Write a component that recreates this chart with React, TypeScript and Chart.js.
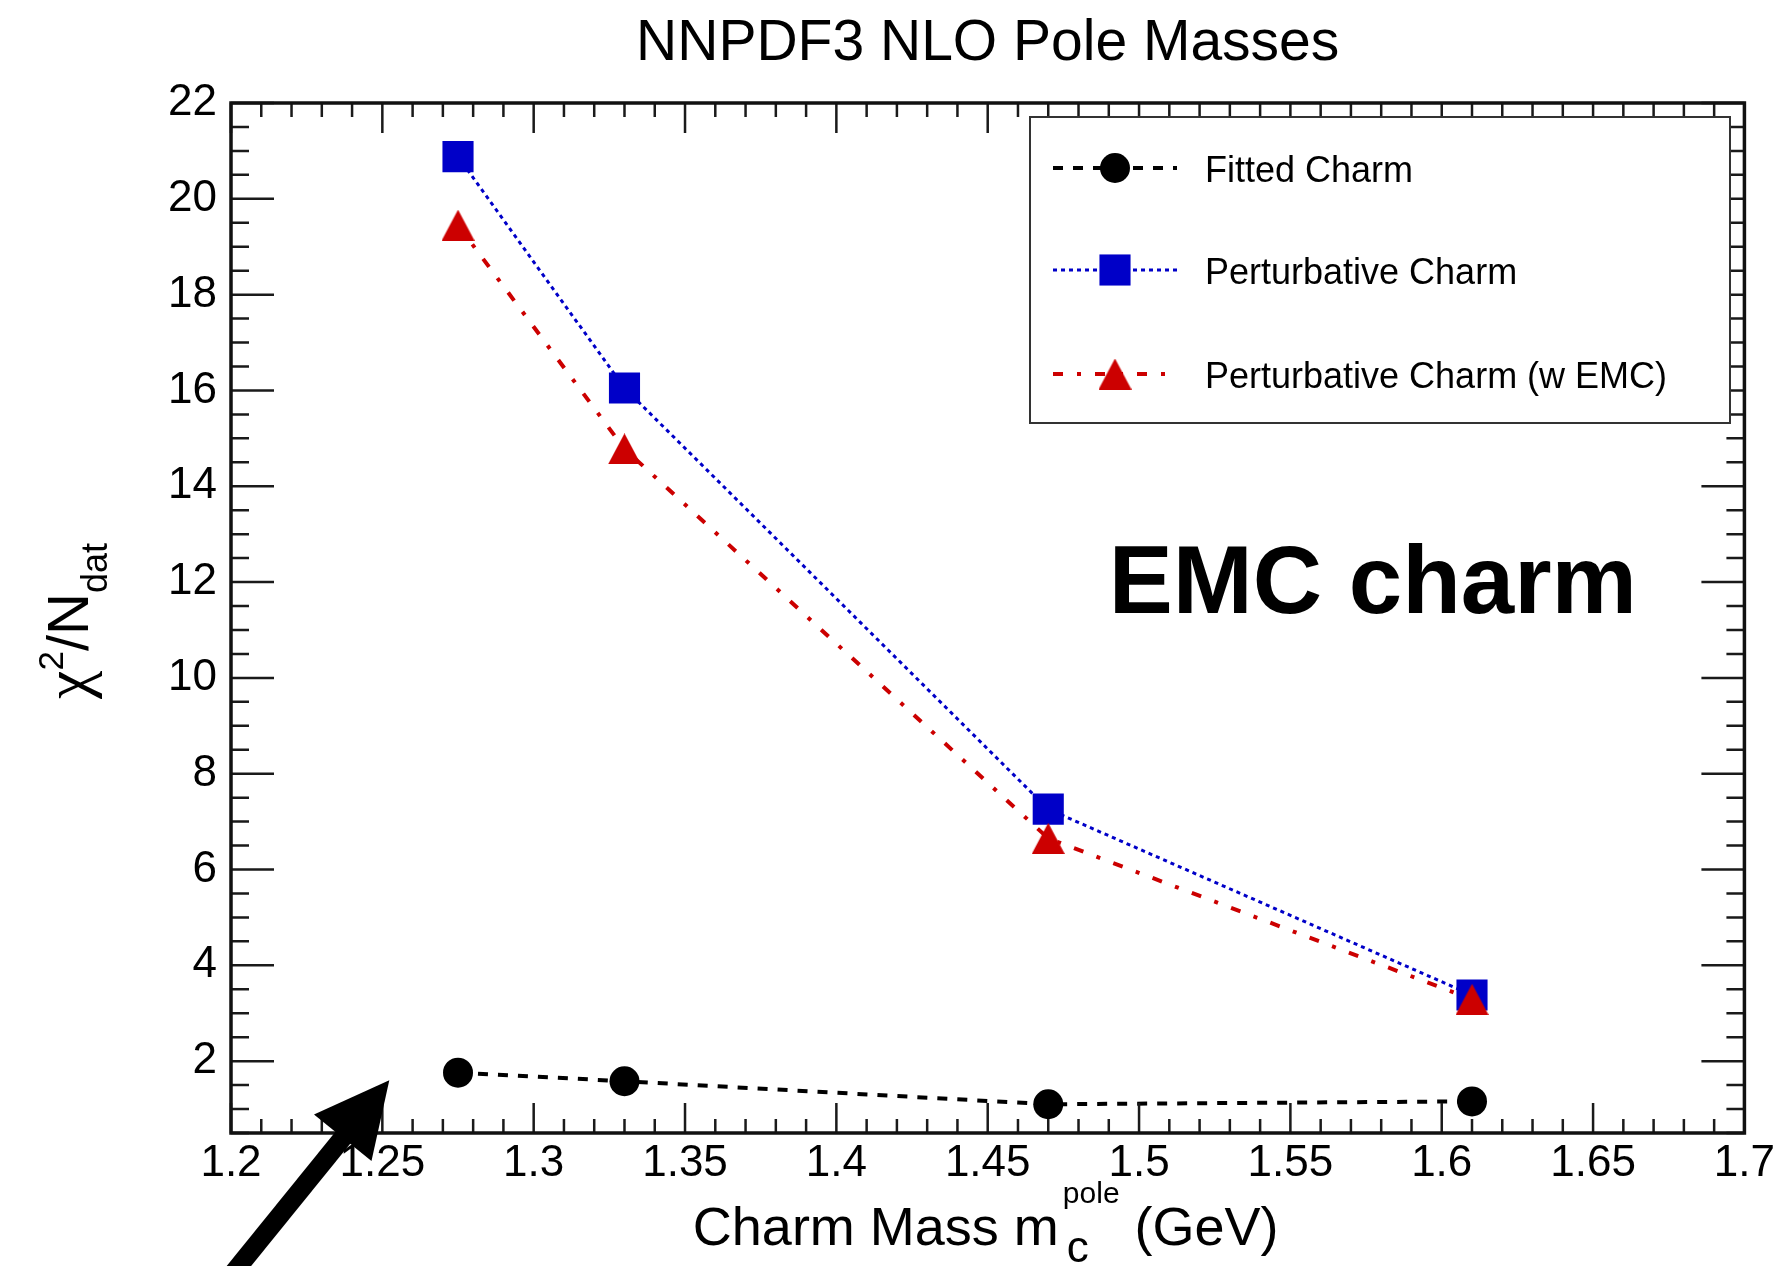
import React, { useEffect, useRef } from 'react';
import { Chart, registerables } from 'chart.js';

Chart.register(...registerables);

const FONT = "'Liberation Sans', Arial, Helvetica, sans-serif";
const GREEK_FONT = "'Liberation Serif', 'DejaVu Serif', serif";

// ---- data ----
const chartTitle = 'NNPDF3 NLO Pole Masses';
const charmMass = [1.275, 1.33, 1.47, 1.61];
const fittedCharm = [1.76, 1.58, 1.1, 1.16];
const perturbativeCharm = [20.88, 16.05, 7.26, 3.38];
const perturbativeCharmEMC = [19.45, 14.78, 6.65, 3.29];
const seriesNames = ['Fitted Charm', 'Perturbative Charm', 'Perturbative Charm (w EMC)'];

const xTickValues = [1.2, 1.25, 1.3, 1.35, 1.4, 1.45, 1.5, 1.55, 1.6, 1.65, 1.7];
const xTickLabels = ['1.2', '1.25', '1.3', '1.35', '1.4', '1.45', '1.5', '1.55', '1.6', '1.65', '1.7'];
const yTickValues = [2, 4, 6, 8, 10, 12, 14, 16, 18, 20, 22];
const yTickLabels = ['2', '4', '6', '8', '10', '12', '14', '16', '18', '20', '22'];
const xRange = [1.2, 1.7];
const yRange = [0.5, 22];
const xMinorStep = 0.01;
const xMinorPerMajor = 5;
const yMinorStep = 0.5;
const yMinorPerMajor = 4;

const annotationText = 'EMC charm';
const annotationAt = [1.49, 11.36];
const arrowTip = [1.2523, 1.6];
const arrowTail = [1.1959, -2.8];

function makeTriangle(color: string, w: number, h: number) {
  const c = document.createElement('canvas');
  c.width = w;
  c.height = h;
  const g = c.getContext('2d')!;
  g.fillStyle = color;
  g.beginPath();
  g.moveTo(w / 2, 0);
  g.lineTo(w, h);
  g.lineTo(0, h);
  g.closePath();
  g.fill();
  return c;
}

function drawMarker(ctx: CanvasRenderingContext2D, ds: any, x: number, y: number) {
  const style = ds.pointStyle;
  const r = ds.pointRadius;
  ctx.save();
  ctx.setLineDash([]);
  ctx.fillStyle = ds.pointBackgroundColor;
  if (style === 'circle') {
    ctx.beginPath();
    ctx.arc(x, y, r, 0, Math.PI * 2);
    ctx.fill();
  } else if (style === 'rect') {
    const s = r * Math.SQRT1_2;
    ctx.fillRect(x - s, y - s, 2 * s, 2 * s);
  } else if (style && style.width) {
    ctx.drawImage(style, x - style.width / 2, y - style.height / 2);
  }
  ctx.restore();
}

const rootStyle = {
  id: 'rootStyle',
  afterDatasetsDraw(chart: any) {
    const { ctx, chartArea: a, scales } = chart;
    const xs = scales.x;
    const ys = scales.y;
    ctx.save();

    // ticks (inside frame, ROOT style)
    ctx.strokeStyle = '#1a1a1a';
    ctx.lineWidth = 2.5;
    ctx.setLineDash([]);
    ctx.beginPath();
    const nx = Math.round((xRange[1] - xRange[0]) / xMinorStep);
    for (let i = 0; i <= nx; i++) {
      const v = xRange[0] + i * xMinorStep;
      const p = xs.getPixelForValue(v);
      const len = i % xMinorPerMajor === 0 ? 30 : 14;
      ctx.moveTo(p, a.bottom);
      ctx.lineTo(p, a.bottom - len);
      ctx.moveTo(p, a.top);
      ctx.lineTo(p, a.top + len);
    }
    const ny = Math.round((yRange[1] - yRange[0]) / yMinorStep);
    for (let i = 0; i <= ny; i++) {
      const v = yRange[0] + i * yMinorStep;
      const p = ys.getPixelForValue(v);
      const major = (i - 3) % yMinorPerMajor === 0;
      const len = major ? 43 : 18;
      ctx.moveTo(a.left, p);
      ctx.lineTo(a.left + len, p);
      ctx.moveTo(a.right, p);
      ctx.lineTo(a.right - len, p);
    }
    ctx.stroke();

    // frame
    ctx.lineWidth = 3.5;
    ctx.strokeStyle = '#111';
    ctx.strokeRect(a.left, a.top, a.width, a.height);

    // annotation
    ctx.fillStyle = '#000';
    ctx.font = `bold 96px ${FONT}`;
    ctx.textAlign = 'left';
    ctx.textBaseline = 'alphabetic';
    ctx.fillText(annotationText, xs.getPixelForValue(annotationAt[0]), ys.getPixelForValue(annotationAt[1]));

    // legend box
    const lx = 1030, ly = 117, lw = 700, lh = 306;
    ctx.fillStyle = '#fff';
    ctx.fillRect(lx, ly, lw, lh);
    ctx.lineWidth = 2;
    ctx.strokeStyle = '#333';
    ctx.strokeRect(lx, ly, lw, lh);
    const rows = [168, 270, 374];
    chart.data.datasets.forEach((ds: any, i: number) => {
      const y = rows[i];
      ctx.save();
      ctx.strokeStyle = ds.borderColor;
      ctx.lineWidth = ds.borderWidth;
      ctx.setLineDash(ds.borderDash || []);
      ctx.beginPath();
      ctx.moveTo(1053, y);
      ctx.lineTo(1177, y);
      ctx.stroke();
      ctx.restore();
      drawMarker(ctx, ds, 1115, y);
      ctx.fillStyle = '#000';
      ctx.font = `36px ${FONT}`;
      ctx.textAlign = 'left';
      ctx.textBaseline = 'alphabetic';
      ctx.fillText(ds.label, 1205, y + 14);
    });
    ctx.restore();
  },
  afterDraw(chart: any) {
    const { ctx, chartArea: a, scales } = chart;
    const xs = scales.x;
    const ys = scales.y;
    ctx.save();
    ctx.fillStyle = '#000';
    ctx.textBaseline = 'alphabetic';
    ctx.textAlign = 'left';

    // x-axis title: Charm Mass m_c^pole (GeV)
    const mainF = `54px ${FONT}`;
    const subF = `44px ${FONT}`;
    const supF = `30px ${FONT}`;
    const p1 = 'Charm Mass m';
    const p2 = ' (GeV)';
    ctx.font = mainF;
    const w1 = ctx.measureText(p1).width;
    const w2 = ctx.measureText(p2).width;
    ctx.font = subF;
    const wsub = ctx.measureText('c').width;
    ctx.font = supF;
    const wsup = ctx.measureText('pole').width;
    const blockW = Math.max(wsup + 4, wsub + 8);
    const total = w1 + blockW + w2;
    const cx = (a.left + a.right) / 2 - 2;
    const x0 = cx - total / 2;
    const base = a.bottom + 112;
    ctx.font = mainF;
    ctx.fillText(p1, x0, base);
    ctx.font = subF;
    ctx.fillText('c', x0 + w1 + 8, base + 17);
    ctx.font = supF;
    ctx.fillText('pole', x0 + w1 + 4, base - 42);
    ctx.font = mainF;
    ctx.fillText(p2, x0 + w1 + blockW, base);

    // y-axis title: chi^2/N_dat
    const chiF = `64px ${GREEK_FONT}`;
    const yF = `58px ${FONT}`;
    const y2F = `35px ${FONT}`;
    const ysubF = `36px ${FONT}`;
    ctx.font = chiF;
    const wchi = ctx.measureText('\u03C7').width;
    ctx.font = yF;
    const wN = ctx.measureText('/N').width;
    ctx.font = y2F;
    const w2s = ctx.measureText('2').width;
    ctx.font = ysubF;
    const wdat = ctx.measureText('dat').width;
    const ytot = wchi + w2s + wN + wdat;
    ctx.translate(a.left - 143, a.top + a.height / 2 + 3);
    ctx.rotate(-Math.PI / 2);
    let t = -ytot / 2;
    ctx.font = chiF;
    ctx.fillText('\u03C7', t, 0);
    t += wchi;
    ctx.font = y2F;
    ctx.fillText('2', t, -25);
    t += w2s;
    ctx.font = yF;
    ctx.fillText('/N', t, 0);
    t += wN;
    ctx.font = ysubF;
    ctx.fillText('dat', t, 19);
    ctx.setTransform(1, 0, 0, 1, 0, 0);

    // arrow
    const tx = xs.getPixelForValue(arrowTip[0]);
    const ty = ys.getPixelForValue(arrowTip[1]);
    const sx = xs.getPixelForValue(arrowTail[0]);
    const sy = ys.getPixelForValue(arrowTail[1]);
    const dx = tx - sx, dy = ty - sy;
    const L = Math.hypot(dx, dy);
    const ux = dx / L, uy = dy / L;
    const headLen = 74, headHalf = 37;
    const bx = tx - ux * headLen, by = ty - uy * headLen;
    ctx.strokeStyle = '#000';
    ctx.lineWidth = 19;
    ctx.lineCap = 'butt';
    ctx.beginPath();
    ctx.moveTo(sx, sy);
    ctx.lineTo(bx + ux * 4, by + uy * 4);
    ctx.stroke();
    ctx.beginPath();
    ctx.moveTo(tx, ty);
    ctx.lineTo(bx - uy * headHalf, by + ux * headHalf);
    ctx.lineTo(bx + uy * headHalf, by - ux * headHalf);
    ctx.closePath();
    ctx.fill();
    ctx.restore();
  },
};

export default function App() {
  const ref = useRef<HTMLCanvasElement | null>(null);

  useEffect(() => {
    document.body.style.margin = '0';
    document.body.style.overflow = 'hidden';
    const canvas = ref.current!;
    const tri = makeTriangle('#cc0000', 33, 31);
    const pts = (ys: number[]) => charmMass.map((x, i) => ({ x, y: ys[i] }));

    const chart = new Chart(canvas, {
      type: 'scatter',
      data: {
        datasets: [
          {
            label: seriesNames[0],
            data: pts(fittedCharm),
            showLine: true,
            borderColor: '#000000',
            borderWidth: 4,
            borderDash: [10, 10],
            pointStyle: 'circle',
            pointRadius: 15,
            pointBackgroundColor: '#000000',
            pointBorderWidth: 0,
            order: 2,
          },
          {
            label: seriesNames[1],
            data: pts(perturbativeCharm),
            showLine: true,
            borderColor: '#0000c8',
            borderWidth: 3,
            borderDash: [4, 4],
            pointStyle: 'rect',
            pointRadius: 22,
            pointBackgroundColor: '#0000c8',
            pointBorderWidth: 0,
            order: 1,
          },
          {
            label: seriesNames[2],
            data: pts(perturbativeCharmEMC),
            showLine: true,
            borderColor: '#cc0000',
            borderWidth: 4,
            borderDash: [10, 14, 4, 14],
            pointStyle: tri as any,
            pointRadius: 16,
            pointBackgroundColor: '#cc0000',
            pointBorderWidth: 0,
            order: 0,
          },
        ] as any,
      },
      options: {
        responsive: false,
        animation: false,
        devicePixelRatio: 1,
        events: [],
        layout: { padding: { left: 0, right: 29, top: 0, bottom: 0 } },
        plugins: {
          legend: { display: false },
          tooltip: { enabled: false },
          title: {
            display: true,
            text: chartTitle,
            fullSize: false,
            color: '#000',
            font: { family: FONT, size: 57, weight: 'normal' },
            padding: { top: 10, bottom: 24.6 },
          },
        },
        scales: {
          x: {
            type: 'linear',
            position: 'bottom',
            min: xRange[0],
            max: xRange[1],
            grid: { display: false, drawTicks: false },
            border: { display: false },
            ticks: {
              autoSkip: false,
              maxRotation: 0,
              padding: 4,
              color: '#000',
              font: { family: FONT, size: 44 },
              callback: (_v: any, i: number) => xTickLabels[i],
            },
            afterBuildTicks: (s: any) => {
              s.ticks = xTickValues.map((value) => ({ value }));
            },
            afterFit: (s: any) => {
              s.height = 133;
            },
          },
          y: {
            type: 'linear',
            min: yRange[0],
            max: yRange[1],
            grid: { display: false, drawTicks: false },
            border: { display: false },
            ticks: {
              autoSkip: false,
              padding: 14,
              color: '#000',
              font: { family: FONT, size: 44 },
              callback: (_v: any, i: number) => yTickLabels[i],
            },
            afterBuildTicks: (s: any) => {
              s.ticks = yTickValues.map((value) => ({ value }));
            },
            afterFit: (s: any) => {
              s.width = 231;
            },
          },
        },
      } as any,
      plugins: [rootStyle],
    });
    return () => chart.destroy();
  }, []);

  return (
    <div style={{ width: 1779, height: 1266, position: 'relative', background: '#fff' }}>
      <canvas ref={ref} width={1779} height={1266} style={{ width: 1779, height: 1266, display: 'block' }} />
    </div>
  );
}
